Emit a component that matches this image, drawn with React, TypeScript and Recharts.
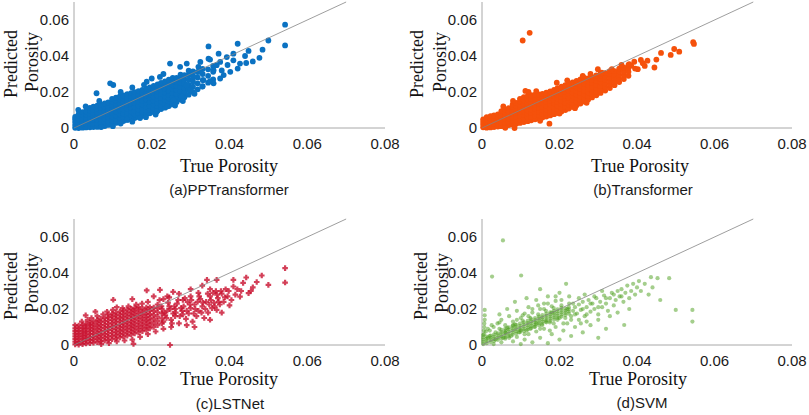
import React from "react";
import { ScatterChart, Scatter, XAxis, YAxis } from "recharts";

type Col = [number, number[]];
type Pt = [number, number];

const xTicks = [0, 0.02, 0.04, 0.06, 0.08];
const yTicks = [0, 0.02, 0.04, 0.06];
const diagonal = [
  { x: 0, y: 0 },
  { x: 0.07, y: 0.07 },
];

const captions = ["(a)PPTransformer", "(b)Transformer", "(c)LSTNet", "(d)SVM"];
const xTitle = "True Porosity";
const yTitle = ["Predicted", "Porosity"];

// (a) PPTransformer: dense band read as columns (x, predicted values)
const ppCore: Col[] = [
  [0.0003, [0.0001, 0.0016, 0.0033, 0.0049, 0.0061]],
  [0.0012, [0.0, 0.0015, 0.0031, 0.0048, 0.0066, 0.0079]],
  [0.0022, [0.0002, 0.0018, 0.0036, 0.0053, 0.0071, 0.0088]],
  [0.0031, [0.0003, 0.0021, 0.0039, 0.0057, 0.0076, 0.0093]],
  [0.0041, [0.0004, 0.0022, 0.0041, 0.006, 0.0079, 0.0098, 0.0112]],
  [0.005, [0.0005, 0.0024, 0.0044, 0.0063, 0.0082, 0.0101, 0.0118]],
  [0.006, [0.0006, 0.0026, 0.0046, 0.0066, 0.0086, 0.0106, 0.0124]],
  [0.0069, [0.0008, 0.0028, 0.0049, 0.007, 0.0091, 0.0111, 0.013]],
  [0.0079, [0.0011, 0.0032, 0.0053, 0.0074, 0.0095, 0.0116, 0.0136]],
  [0.0088, [0.0017, 0.0037, 0.0058, 0.0079, 0.01, 0.0121, 0.0142]],
  [0.0098, [0.0022, 0.0043, 0.0064, 0.0085, 0.0106, 0.0127, 0.0147, 0.0162]],
  [0.0108, [0.0028, 0.0049, 0.007, 0.0091, 0.0112, 0.0133, 0.0153, 0.0169]],
  [0.0118, [0.0034, 0.0055, 0.0076, 0.0097, 0.0118, 0.0139, 0.0159, 0.0175]],
  [0.0127, [0.0039, 0.006, 0.0081, 0.0102, 0.0123, 0.0144, 0.0165, 0.0181]],
  [0.0137, [0.0045, 0.0066, 0.0087, 0.0108, 0.0129, 0.015, 0.0171, 0.0188]],
  [0.0147, [0.005, 0.0071, 0.0092, 0.0113, 0.0134, 0.0155, 0.0176, 0.0194]],
  [0.0156, [0.0055, 0.0076, 0.0097, 0.0118, 0.0139, 0.016, 0.0181, 0.0199]],
  [0.0166, [0.0061, 0.0082, 0.0103, 0.0124, 0.0145, 0.0166, 0.0187, 0.0205]],
  [0.0176, [0.0068, 0.0089, 0.011, 0.0131, 0.0152, 0.0173, 0.0194, 0.0212]],
  [0.0186, [0.0075, 0.0096, 0.0117, 0.0138, 0.0159, 0.018, 0.0201, 0.0219]],
  [0.0195, [0.0082, 0.0103, 0.0124, 0.0145, 0.0166, 0.0187, 0.0208, 0.0226]],
  [0.0205, [0.0089, 0.011, 0.0131, 0.0152, 0.0173, 0.0194, 0.0215, 0.0234]],
  [0.0215, [0.0097, 0.0118, 0.0139, 0.016, 0.0181, 0.0202, 0.0223, 0.0242]],
  [0.0224, [0.0105, 0.0126, 0.0147, 0.0168, 0.0189, 0.021, 0.0231, 0.0251]],
  [0.0234, [0.0113, 0.0134, 0.0155, 0.0176, 0.0197, 0.0218, 0.0239, 0.0259]],
  [0.0244, [0.0122, 0.0143, 0.0164, 0.0185, 0.0206, 0.0227, 0.0248, 0.0268]],
  [0.0254, [0.0132, 0.0153, 0.0174, 0.0195, 0.0216, 0.0237, 0.0258, 0.0279]],
  [0.0264, [0.0145, 0.0167, 0.0189, 0.0211, 0.0233, 0.0255, 0.0278]],
  [0.0274, [0.0158, 0.0181, 0.0204, 0.0227, 0.025, 0.0274, 0.0296]],
  [0.0284, [0.0171, 0.0196, 0.0221, 0.0246, 0.0271, 0.0293]],
  [0.0295, [0.0185, 0.0213, 0.024, 0.0268, 0.0296, 0.0318]],
  [0.0306, [0.02, 0.023, 0.0259, 0.0289, 0.0315]],
  [0.0318, [0.0215, 0.0248, 0.0281, 0.0311]],
  [0.0331, [0.0232, 0.0266, 0.03, 0.0329]],
  [0.0345, [0.0252, 0.029, 0.0326]],
  [0.0358, [0.027, 0.0312, 0.0345]],
];
const ppSpread: Pt[] = [
  [0.0543, 0.0574], [0.0543, 0.0459], [0.05, 0.0486], [0.0485, 0.0435], [0.0477, 0.039],
  [0.0449, 0.0428], [0.0443, 0.0361], [0.0421, 0.0468], [0.0421, 0.033], [0.0346, 0.0453],
  [0.0372, 0.0413], [0.0393, 0.0394], [0.041, 0.0376], [0.0402, 0.0312], [0.0385, 0.0294],
  [0.0359, 0.0321], [0.0427, 0.0358], [0.0325, 0.0367], [0.029, 0.0358], [0.0247, 0.0358],
  [0.0273, 0.034], [0.0307, 0.0284], [0.0333, 0.0266], [0.0359, 0.0248], [0.0376, 0.0275],
  [0.0346, 0.0385], [0.0325, 0.0312], [0.029, 0.0239], [0.0221, 0.0284], [0.0187, 0.0257],
  [0.0101, 0.0239], [0.0058, 0.0193], [0.0093, 0.0248], [0.0011, 0.0101], [0.017, 0.0055],
  [0.0136, 0.0046], [0.0213, 0.0092], [0.0239, 0.0119], [0.0256, 0.0156], [0.0277, 0.0174],
  [0.0299, 0.0211], [0.0376, 0.0367], [0.041, 0.0413], [0.0367, 0.0349], [0.003, 0.012],
  [0.0065, 0.015], [0.012, 0.02], [0.015, 0.0225], [0.018, 0.024], [0.02, 0.0275],
  [0.023, 0.03], [0.007, 0.0005], [0.01, 0.001], [0.012, 0.0025], [0.015, 0.0035],
  [0.0185, 0.006], [0.021, 0.0075], [0.026, 0.0125], [0.028, 0.015], [0.031, 0.019],
  [0.033, 0.023], [0.035, 0.026], [0.038, 0.032], [0.0395, 0.035], [0.044, 0.04],
  [0.046, 0.037], [0.035, 0.038], [0.032, 0.034],
];

// (b) Transformer
const trCore: Col[] = [
  [0.0003, [0.0004, 0.0019, 0.0034, 0.0048]],
  [0.0012, [0.0002, 0.0017, 0.0032, 0.0047, 0.006]],
  [0.0022, [0.0003, 0.0019, 0.0035, 0.0051, 0.0066]],
  [0.0031, [0.0005, 0.0022, 0.0039, 0.0055, 0.007]],
  [0.0041, [0.0008, 0.0025, 0.0042, 0.0059, 0.0076]],
  [0.005, [0.001, 0.0028, 0.0046, 0.0064, 0.0082, 0.0094]],
  [0.006, [0.0013, 0.0031, 0.005, 0.0069, 0.0088, 0.0102]],
  [0.0069, [0.0016, 0.0035, 0.0054, 0.0073, 0.0092, 0.011]],
  [0.0079, [0.002, 0.0039, 0.0058, 0.0077, 0.0096, 0.0116, 0.013]],
  [0.0088, [0.0024, 0.0043, 0.0063, 0.0083, 0.0103, 0.0123, 0.014]],
  [0.0098, [0.0028, 0.0048, 0.0068, 0.0088, 0.0108, 0.0128, 0.0148, 0.0162]],
  [0.0108, [0.0033, 0.0053, 0.0073, 0.0093, 0.0113, 0.0133, 0.0153, 0.0172]],
  [0.0118, [0.0038, 0.0058, 0.0078, 0.0098, 0.0118, 0.0138, 0.0158, 0.0178]],
  [0.0127, [0.0043, 0.0063, 0.0083, 0.0103, 0.0123, 0.0143, 0.0163, 0.0182]],
  [0.0137, [0.0048, 0.0068, 0.0088, 0.0108, 0.0128, 0.0148, 0.0168, 0.0185]],
  [0.0147, [0.0053, 0.0073, 0.0093, 0.0113, 0.0133, 0.0153, 0.0172, 0.0187]],
  [0.0156, [0.0058, 0.0078, 0.0098, 0.0118, 0.0138, 0.0158, 0.0176, 0.019]],
  [0.0166, [0.0064, 0.0084, 0.0104, 0.0124, 0.0144, 0.0164, 0.0182, 0.0196]],
  [0.0176, [0.007, 0.009, 0.011, 0.013, 0.015, 0.017, 0.0189, 0.0204]],
  [0.0186, [0.0077, 0.0097, 0.0117, 0.0137, 0.0157, 0.0177, 0.0196, 0.0212]],
  [0.0195, [0.0084, 0.0104, 0.0124, 0.0144, 0.0164, 0.0184, 0.0204, 0.0221]],
  [0.0205, [0.0092, 0.0112, 0.0132, 0.0152, 0.0172, 0.0192, 0.0212, 0.023]],
  [0.0215, [0.01, 0.012, 0.014, 0.016, 0.018, 0.02, 0.022, 0.0238]],
  [0.0224, [0.0108, 0.0128, 0.0148, 0.0168, 0.0188, 0.0208, 0.0228, 0.0246]],
  [0.0234, [0.0117, 0.0137, 0.0157, 0.0177, 0.0197, 0.0217, 0.0237, 0.0254]],
  [0.0244, [0.0126, 0.0146, 0.0166, 0.0186, 0.0206, 0.0226, 0.0246, 0.0262]],
  [0.0254, [0.0136, 0.0156, 0.0176, 0.0196, 0.0216, 0.0236, 0.0256, 0.027]],
  [0.0264, [0.0147, 0.0167, 0.0187, 0.0207, 0.0227, 0.0247, 0.0266, 0.0278]],
  [0.0274, [0.0158, 0.0178, 0.0198, 0.0218, 0.0238, 0.0258, 0.0275]],
  [0.0284, [0.017, 0.019, 0.021, 0.023, 0.025, 0.0268, 0.0283]],
  [0.0295, [0.0182, 0.0202, 0.0222, 0.0242, 0.0262, 0.028, 0.0292]],
  [0.0306, [0.0195, 0.0214, 0.0234, 0.0254, 0.0274, 0.0292, 0.0303]],
  [0.0318, [0.0208, 0.0228, 0.0248, 0.0268, 0.0287, 0.0305]],
  [0.033, [0.0222, 0.0242, 0.0262, 0.0282, 0.03, 0.0316]],
  [0.0342, [0.0238, 0.0258, 0.0278, 0.0298, 0.0316]],
  [0.0354, [0.0255, 0.0276, 0.0296, 0.0315, 0.033]],
  [0.0366, [0.0272, 0.0294, 0.0315, 0.0334]],
  [0.0378, [0.029, 0.0312, 0.0334, 0.035]],
];
const trSpread: Pt[] = [
  [0.0105, 0.0486], [0.0123, 0.0529], [0.0545, 0.0477], [0.0547, 0.0467], [0.0462, 0.0417],
  [0.0496, 0.0439], [0.0509, 0.0424], [0.0487, 0.0406], [0.0445, 0.0336], [0.0427, 0.0374],
  [0.041, 0.0378], [0.0393, 0.0368], [0.0385, 0.0346], [0.0365, 0.0336], [0.0402, 0.0327],
  [0.0112, 0.0206], [0.0193, 0.0252], [0.0309, 0.0308], [0.0335, 0.0327], [0.0299, 0.0327],
  [0.0084, 0.0], [0.0174, 0.0024], [0.006, 0.0001], [0.015, 0.004], [0.042, 0.0345],
  [0.038, 0.0355], [0.036, 0.035], [0.045, 0.038], [0.0415, 0.036], [0.0395, 0.033],
  [0.0055, 0.012], [0.008, 0.015], [0.012, 0.02], [0.014, 0.0205], [0.022, 0.0265],
  [0.026, 0.029], [0.028, 0.03], [0.02, 0.008], [0.024, 0.011], [0.027, 0.014],
];

// (c) LSTNet
const lsCore: Col[] = [
  [0.0003, [0.0003, 0.0018, 0.0033, 0.0048, 0.0063, 0.0078, 0.0093, 0.011]],
  [0.0012, [0.0002, 0.0017, 0.0032, 0.0047, 0.0062, 0.0077, 0.0092, 0.0108]],
  [0.0022, [0.0005, 0.002, 0.0035, 0.005, 0.0065, 0.008, 0.0095, 0.0112]],
  [0.0031, [0.0008, 0.0024, 0.004, 0.0056, 0.0072, 0.0088, 0.0104, 0.0118]],
  [0.0041, [0.001, 0.0027, 0.0044, 0.0061, 0.0078, 0.0095, 0.0112, 0.0126]],
  [0.005, [0.0013, 0.003, 0.0047, 0.0064, 0.0081, 0.0098, 0.0115, 0.0132]],
  [0.006, [0.0016, 0.0034, 0.0052, 0.007, 0.0088, 0.0106, 0.0124, 0.014]],
  [0.0069, [0.002, 0.0038, 0.0056, 0.0074, 0.0092, 0.011, 0.0128, 0.0146]],
  [0.0079, [0.0024, 0.0042, 0.006, 0.0078, 0.0096, 0.0114, 0.0132, 0.015]],
  [0.0088, [0.0028, 0.0046, 0.0064, 0.0082, 0.01, 0.0118, 0.0136, 0.0154, 0.0168]],
  [0.0098, [0.0032, 0.005, 0.0068, 0.0086, 0.0104, 0.0122, 0.014, 0.0158, 0.0174]],
  [0.0108, [0.0037, 0.0055, 0.0073, 0.0091, 0.0109, 0.0127, 0.0145, 0.0163, 0.018]],
  [0.0118, [0.0042, 0.006, 0.0078, 0.0096, 0.0114, 0.0132, 0.015, 0.0168, 0.0186]],
  [0.0127, [0.0047, 0.0065, 0.0083, 0.0101, 0.0119, 0.0137, 0.0155, 0.0173, 0.0191]],
  [0.0137, [0.0052, 0.007, 0.0088, 0.0106, 0.0124, 0.0142, 0.016, 0.0178, 0.0196]],
  [0.0147, [0.0058, 0.0076, 0.0094, 0.0112, 0.013, 0.0148, 0.0166, 0.0184, 0.0201]],
  [0.0156, [0.0064, 0.0082, 0.01, 0.0118, 0.0136, 0.0154, 0.0172, 0.019, 0.0206]],
  [0.0166, [0.007, 0.0088, 0.0106, 0.0124, 0.0142, 0.016, 0.0178, 0.0196, 0.0211]],
  [0.0176, [0.0077, 0.0095, 0.0113, 0.0131, 0.0149, 0.0167, 0.0185, 0.0202]],
  [0.0186, [0.0084, 0.0102, 0.012, 0.0138, 0.0156, 0.0174, 0.0192, 0.0208]],
  [0.0195, [0.0092, 0.0112, 0.0132, 0.0152, 0.0172, 0.0192, 0.021]],
  [0.0205, [0.01, 0.0122, 0.0144, 0.0166, 0.0188, 0.0208]],
  [0.0215, [0.011, 0.0134, 0.0158, 0.0182, 0.0204]],
  [0.0226, [0.012, 0.0148, 0.0176, 0.02]],
];
const lsSpread: Pt[] = [
  [0.002, 0.013], [0.0035, 0.014], [0.0045, 0.015], [0.006, 0.016], [0.0075, 0.017],
  [0.0085, 0.0185], [0.01, 0.0195], [0.011, 0.021], [0.0125, 0.0205], [0.014, 0.0215],
  [0.016, 0.0225], [0.0175, 0.023], [0.019, 0.024], [0.0101, 0.0251], [0.0055, 0.0185],
  [0.003, 0.0165], [0.015, 0.0255], [0.0187, 0.0303], [0.0221, 0.0306], [0.0205, 0.027],
  [0.023, 0.0255], [0.0245, 0.0265], [0.009, 0.001], [0.011, 0.002], [0.013, 0.0025],
  [0.015, 0.003], [0.0153, 0.0006], [0.017, 0.0045], [0.019, 0.006], [0.021, 0.0075],
  [0.0247, 0.0], [0.023, 0.009], [0.025, 0.01], [0.007, 0.0005], [0.023, 0.013],
  [0.0235, 0.0165], [0.024, 0.019], [0.0245, 0.0215], [0.025, 0.014], [0.0255, 0.0175],
  [0.026, 0.02], [0.0265, 0.023], [0.027, 0.012], [0.0272, 0.016], [0.0278, 0.019],
  [0.0282, 0.0215], [0.0288, 0.0145], [0.0292, 0.024], [0.0295, 0.0175], [0.03, 0.0205],
  [0.0305, 0.013], [0.031, 0.0225], [0.0315, 0.016], [0.032, 0.019], [0.0325, 0.0255],
  [0.033, 0.0215], [0.0335, 0.015], [0.034, 0.024], [0.0342, 0.0362], [0.0345, 0.018],
  [0.035, 0.027], [0.0355, 0.0205], [0.036, 0.0235], [0.0365, 0.03], [0.0367, 0.0362],
  [0.0367, 0.0195], [0.037, 0.026], [0.0375, 0.0225], [0.038, 0.0285], [0.0385, 0.024],
  [0.039, 0.031], [0.0395, 0.027], [0.04, 0.022], [0.041, 0.0325], [0.041, 0.0362],
  [0.0415, 0.028], [0.0427, 0.0269], [0.043, 0.03], [0.0443, 0.0375], [0.0449, 0.0288],
  [0.046, 0.032], [0.0483, 0.0386], [0.05, 0.0334], [0.0543, 0.0427], [0.0543, 0.0347],
  [0.032, 0.029], [0.03, 0.027], [0.028, 0.025], [0.026, 0.016], [0.029, 0.011],
  [0.031, 0.01], [0.035, 0.014], [0.038, 0.018], [0.033, 0.033], [0.035, 0.031],
  [0.0255, 0.0295], [0.0215, 0.0225], [0.0225, 0.0215], [0.0232, 0.018], [0.0238, 0.015],
  [0.0242, 0.0235], [0.0248, 0.02], [0.0252, 0.012], [0.0258, 0.0215], [0.0262, 0.018],
  [0.0268, 0.025], [0.0275, 0.0205], [0.028, 0.017], [0.0285, 0.026], [0.029, 0.019],
  [0.0298, 0.0225], [0.0302, 0.025], [0.0308, 0.0175], [0.0312, 0.02], [0.0318, 0.024],
  [0.0322, 0.027], [0.0328, 0.018], [0.0332, 0.0235], [0.0338, 0.02], [0.0344, 0.0285],
  [0.0348, 0.0225], [0.0352, 0.025], [0.0358, 0.029], [0.0362, 0.0215], [0.0368, 0.028],
  [0.0372, 0.024], [0.0378, 0.03], [0.0388, 0.0265], [0.0398, 0.03], [0.0405, 0.025],
  [0.042, 0.031], [0.0435, 0.0345], [0.0455, 0.03], [0.047, 0.035], [0.03, 0.031],
  [0.027, 0.0285], [0.024, 0.027], [0.022, 0.025],
];

// (d) SVM
const svCore: Col[] = [
  [0.0003, [0.0005, 0.0018, 0.003, 0.0042, 0.0055]],
  [0.0012, [0.001, 0.0022, 0.0034, 0.0046]],
  [0.0022, [0.0016, 0.0028, 0.004, 0.0052]],
  [0.0031, [0.0022, 0.0034, 0.0046, 0.0058]],
  [0.0041, [0.0029, 0.0041, 0.0053, 0.0065]],
  [0.005, [0.0036, 0.0048, 0.006, 0.0072, 0.0084]],
  [0.006, [0.0043, 0.0055, 0.0067, 0.0079, 0.009]],
  [0.0069, [0.005, 0.0062, 0.0074, 0.0086, 0.0098]],
  [0.0079, [0.0057, 0.0069, 0.0081, 0.0093, 0.0105]],
  [0.0088, [0.0064, 0.0076, 0.0088, 0.01, 0.0112]],
  [0.0098, [0.0071, 0.0083, 0.0095, 0.0107, 0.0119]],
  [0.0108, [0.0078, 0.009, 0.0102, 0.0114, 0.0126]],
  [0.0118, [0.0086, 0.0098, 0.011, 0.0122, 0.0134]],
  [0.0127, [0.0094, 0.0106, 0.0118, 0.013, 0.0142]],
  [0.0137, [0.0102, 0.0114, 0.0126, 0.0138, 0.015]],
  [0.0147, [0.011, 0.0122, 0.0134, 0.0146, 0.0158]],
  [0.0156, [0.0118, 0.013, 0.0142, 0.0154, 0.0166]],
  [0.0166, [0.0126, 0.0138, 0.015, 0.0162, 0.0174]],
  [0.0176, [0.0134, 0.0146, 0.0158, 0.017, 0.0182]],
  [0.0186, [0.0142, 0.0154, 0.0166, 0.0178, 0.019]],
  [0.0195, [0.015, 0.0162, 0.0174, 0.0186, 0.0198]],
  [0.0205, [0.0158, 0.017, 0.0182, 0.0194, 0.0206]],
  [0.0215, [0.0166, 0.0178, 0.019, 0.0202]],
  [0.0224, [0.0174, 0.0186, 0.0198, 0.021]],
];
const svSpread: Pt[] = [
  [0.0005, 0.006], [0.0005, 0.008], [0.0006, 0.01], [0.0006, 0.012], [0.0007, 0.014],
  [0.0007, 0.0165], [0.0007, 0.0195], [0.001, 0.0075], [0.002, 0.008], [0.0026, 0.038],
  [0.0054, 0.0581], [0.0101, 0.0386], [0.003, 0.01], [0.004, 0.012], [0.005, 0.014],
  [0.006, 0.011], [0.007, 0.016], [0.008, 0.013], [0.009, 0.019], [0.01, 0.015],
  [0.011, 0.0175], [0.012, 0.021], [0.013, 0.018], [0.014, 0.025], [0.015, 0.02],
  [0.016, 0.023], [0.017, 0.027], [0.018, 0.0215], [0.019, 0.0245], [0.0217, 0.034],
  [0.02, 0.029], [0.0085, 0.024], [0.0065, 0.02], [0.0115, 0.026], [0.015, 0.031],
  [0.0045, 0.017], [0.003, 0.0005], [0.005, 0.0015], [0.006, 0.0035], [0.008, 0.002],
  [0.009, 0.0045], [0.01, 0.0005], [0.011, 0.003], [0.012, 0.006], [0.013, 0.0015],
  [0.014, 0.0075], [0.015, 0.004], [0.016, 0.009], [0.017, 0.001], [0.018, 0.006],
  [0.019, 0.01], [0.02, 0.003], [0.021, 0.008], [0.022, 0.012], [0.023, 0.005],
  [0.024, 0.01], [0.025, 0.014], [0.026, 0.007], [0.028, 0.011], [0.03, 0.004],
  [0.0367, 0.0111], [0.032, 0.009], [0.023, 0.016], [0.0235, 0.019], [0.024, 0.021],
  [0.0245, 0.0175], [0.025, 0.0225], [0.0255, 0.0195], [0.026, 0.024], [0.0265, 0.016],
  [0.027, 0.021], [0.0275, 0.025], [0.028, 0.0185], [0.0285, 0.023], [0.029, 0.02],
  [0.0295, 0.026], [0.03, 0.017], [0.0305, 0.024], [0.031, 0.021], [0.0315, 0.0275],
  [0.032, 0.023], [0.0325, 0.019], [0.033, 0.026], [0.0335, 0.029], [0.034, 0.022],
  [0.0345, 0.025], [0.035, 0.03], [0.0355, 0.027], [0.036, 0.031], [0.0365, 0.024],
  [0.037, 0.029], [0.0375, 0.033], [0.038, 0.026], [0.0385, 0.03], [0.039, 0.034],
  [0.0395, 0.028], [0.04, 0.032], [0.0405, 0.0355], [0.041, 0.03], [0.042, 0.034],
  [0.0436, 0.0377], [0.0453, 0.0371], [0.0483, 0.0371], [0.044, 0.032], [0.043, 0.028],
  [0.05, 0.0195], [0.0543, 0.0195], [0.0543, 0.013], [0.046, 0.025], [0.027, 0.013],
  [0.03, 0.014], [0.033, 0.016], [0.035, 0.018], [0.038, 0.02], [0.002, 0.005],
  [0.0035, 0.003], [0.0045, 0.009], [0.0055, 0.004], [0.0065, 0.0095], [0.0075, 0.005],
  [0.0085, 0.0115], [0.0095, 0.007], [0.0105, 0.0135], [0.0115, 0.008], [0.0125, 0.015],
  [0.0135, 0.01], [0.0145, 0.017], [0.0155, 0.011], [0.0165, 0.019], [0.0175, 0.0125],
  [0.0185, 0.0205], [0.0195, 0.014], [0.0205, 0.022], [0.0215, 0.015], [0.0225, 0.023],
  [0.006, 0.007], [0.007, 0.004], [0.008, 0.011], [0.009, 0.014], [0.01, 0.008],
  [0.0105, 0.0165], [0.011, 0.006], [0.012, 0.016], [0.0125, 0.009], [0.013, 0.02],
  [0.014, 0.012], [0.0145, 0.022], [0.015, 0.009], [0.016, 0.02], [0.0165, 0.013],
  [0.017, 0.023], [0.0175, 0.008], [0.018, 0.018], [0.0185, 0.012], [0.019, 0.027],
  [0.02, 0.015], [0.0205, 0.025], [0.021, 0.012], [0.022, 0.02], [0.0225, 0.027],
  [0.023, 0.014], [0.0235, 0.023], [0.024, 0.017], [0.025, 0.026], [0.0255, 0.012],
  [0.026, 0.02], [0.0265, 0.028], [0.027, 0.017], [0.028, 0.023], [0.029, 0.027],
  [0.03, 0.021], [0.031, 0.03], [0.032, 0.026], [0.034, 0.028], [0.036, 0.027],
  [0.0045, 0.0125], [0.0035, 0.007], [0.0025, 0.011], [0.0015, 0.009], [0.0015, 0.004],
];

const toPoints = (cols: Col[], spread: Pt[]) => [
  ...cols.flatMap(([x, ys]) => ys.map((y) => ({ x, y }))),
  ...spread.map(([x, y]) => ({ x, y })),
];

const sansFont = "'Liberation Sans', Arial, sans-serif";
const serifFont = "'Liberation Serif', 'Times New Roman', serif";

const dot = (color: string, r: number, opacity: number) => (p: any) =>
  <circle cx={p.cx} cy={p.cy} r={r} fill={color} fillOpacity={opacity} />;

const plus = (color: string, opacity: number, arm: number) => (p: any) =>
  (
    <path
      d={`M${p.cx - arm},${p.cy}h${arm * 2}M${p.cx},${p.cy - arm}v${arm * 2}`}
      stroke={color}
      strokeOpacity={opacity}
      strokeWidth={2.2}
      fill="none"
    />
  );

function Panel({
  left,
  top,
  width,
  height,
  margin,
  yWidth,
  data,
  shape,
}: {
  left: number;
  top: number;
  width: number;
  height: number;
  margin: { top: number; right: number; bottom: number; left: number };
  yWidth: number;
  data: { x: number; y: number }[];
  shape: any;
}) {
  return (
    <div style={{ position: "absolute", left, top }}>
      <ScatterChart width={width} height={height} margin={margin}>
        <XAxis
          type="number"
          dataKey="x"
          domain={[0, 0.08]}
          ticks={xTicks}
          interval={0}
          height={30}
          axisLine={{ stroke: "#a8a8a8" }}
          tickLine={false}
          tickSize={0}
          tickMargin={10}
          tick={{ fontSize: 15, fill: "#1a1a1a", fontFamily: sansFont }}
        />
        <YAxis
          type="number"
          dataKey="y"
          domain={[0, 0.07]}
          ticks={yTicks}
          interval={0}
          width={yWidth}
          axisLine={{ stroke: "#a8a8a8" }}
          tickLine={false}
          tickSize={0}
          tickMargin={5}
          tick={{ fontSize: 15, fill: "#1a1a1a", fontFamily: sansFont }}
        />
        <Scatter data={data} shape={shape} isAnimationActive={false} />
        <Scatter
          data={diagonal}
          line={{ stroke: "#858585", strokeWidth: 0.8 }}
          shape={() => <g />}
          isAnimationActive={false}
        />
      </ScatterChart>
    </div>
  );
}

export default function App() {
  const yLabels = [
    { pred: [17, 64], poro: [38, 62] },
    { pred: [423, 64], poro: [446, 62] },
    { pred: [17, 286], poro: [38, 283] },
    { pred: [427, 286], poro: [448, 283] },
  ];
  const xLabels = [
    [229, 172],
    [640, 172],
    [229, 385],
    [638, 385],
  ];
  const capPos = [
    [229, 195],
    [643, 195],
    [230, 409],
    [642, 408],
  ];
  return (
    <div
      style={{
        position: "absolute",
        left: 0,
        top: 0,
        width: 809,
        height: 415,
        background: "#fff",
      }}
    >
      <Panel
        left={0}
        top={0}
        width={405}
        height={210}
        margin={{ top: 2, right: 20, bottom: 52, left: 0 }}
        yWidth={74}
        data={toPoints(ppCore, ppSpread)}
        shape={dot("#0b72c2", 2.9, 1)}
      />
      <Panel
        left={405}
        top={0}
        width={404}
        height={210}
        margin={{ top: 2, right: 17, bottom: 52, left: 0 }}
        yWidth={77}
        data={toPoints(trCore, trSpread)}
        shape={dot("#f5510b", 2.9, 1)}
      />
      <Panel
        left={0}
        top={210}
        width={405}
        height={205}
        margin={{ top: 9, right: 20, bottom: 40, left: 0 }}
        yWidth={74}
        data={toPoints(lsCore, lsSpread)}
        shape={plus("#c8102e", 0.8, 2.8)}
      />
      <Panel
        left={405}
        top={210}
        width={404}
        height={205}
        margin={{ top: 9, right: 17, bottom: 40, left: 0 }}
        yWidth={77}
        data={toPoints(svCore, svSpread)}
        shape={dot("#4a9e1a", 2.1, 0.5)}
      />
      <svg
        width={809}
        height={415}
        style={{ position: "absolute", left: 0, top: 0, pointerEvents: "none" }}
      >
        {yLabels.map((l, i) => (
          <g key={"y" + i} fontFamily={serifFont} fontSize={18} fill="#111">
            <text
              transform={`translate(${l.pred[0]},${l.pred[1]}) rotate(-90)`}
              textAnchor="middle"
            >
              {yTitle[0]}
            </text>
            <text
              transform={`translate(${l.poro[0]},${l.poro[1]}) rotate(-90)`}
              textAnchor="middle"
            >
              {yTitle[1]}
            </text>
          </g>
        ))}
        {xLabels.map(([x, y], i) => (
          <text
            key={"x" + i}
            x={x}
            y={y}
            textAnchor="middle"
            fontFamily={serifFont}
            fontSize={18}
            fill="#111"
          >
            {xTitle}
          </text>
        ))}
        {capPos.map(([x, y], i) => (
          <text
            key={"c" + i}
            x={x}
            y={y}
            textAnchor="middle"
            fontFamily={sansFont}
            fontSize={15}
            fill="#1a1a1a"
          >
            {captions[i]}
          </text>
        ))}
      </svg>
    </div>
  );
}
